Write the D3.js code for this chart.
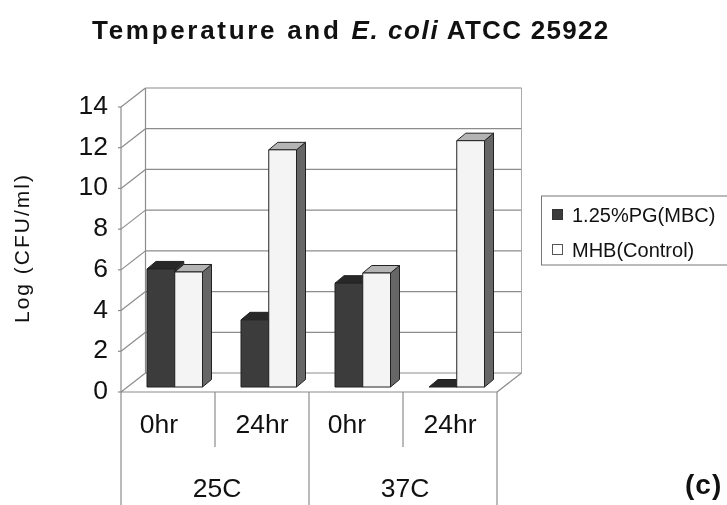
<!DOCTYPE html>
<html><head><meta charset="utf-8">
<script src="https://cdnjs.cloudflare.com/ajax/libs/d3/7.8.5/d3.min.js"></script>
<style>html,body{margin:0;padding:0;background:#fff;overflow:hidden}
svg{display:block;filter:blur(0.5px)}
text{font-family:"Liberation Sans",Arial,sans-serif;fill:#111}</style>
</head><body><svg id="c" width="727" height="505"></svg>
<script>
const groups = ["25C", "37C"];
const times = ["0hr", "24hr", "0hr", "24hr"];
const seriesNames = ["1.25%PG(MBC)", "MHB(Control)"];
const pgValues = [5.8, 3.3, 5.1, 0];
const mhbValues = [5.65, 11.65, 5.6, 12.1];
const yTicks = [0, 2, 4, 6, 8, 10, 12, 14];

const svg = d3.select("#c");
const W = {x0: 121, x1: 497, y0: 392, y1: 107, dx: 24.5, dy: -19};
const y = d3.scaleLinear().domain([0, 14]).range([W.y0, W.y1]);
const x = d3.scaleBand().domain(d3.range(times.length)).range([W.x0, W.x1]);
const gx = d3.scaleBand().domain(groups).range([W.x0, W.x1]);
const inner = d3.scaleBand().domain([0, 1]).range([26, 81.5]);
const grid = "#8c8c8c";
const line = (a, b, c, d, col = grid, w = 1.2) =>
  svg.append("line").attr("x1", a).attr("y1", b).attr("x2", c).attr("y2", d).attr("stroke", col).attr("stroke-width", w);

// Title
const title = svg.append("text").attr("x", 92).attr("y", 38.5)
  .attr("font-size", 26).attr("font-weight", "bold");
title.append("tspan").attr("letter-spacing", 2.7).text("Temperature and ");
title.append("tspan").attr("letter-spacing", 1.6).attr("font-style", "italic").text("E. coli");
title.append("tspan").attr("letter-spacing", 1.3).text(" ATCC 25922");

// Walls + gridlines
yTicks.forEach(t => {
  const py = y(t);
  line(W.x0 - 3, py, W.x0, py);
  line(W.x0, py, W.x0 + W.dx, py + W.dy);
  line(W.x0 + W.dx, py + W.dy, W.x1 + W.dx, py + W.dy);
  svg.append("text").attr("x", 108).attr("y", py + 7).attr("text-anchor", "end")
    .attr("font-size", 26.5).text(t);
});
line(W.x0, W.y0, W.x0, W.y1);
line(W.x0 + W.dx, W.y0 + W.dy, W.x0 + W.dx, W.y1 + W.dy);
line(W.x1 + W.dx, W.y0 + W.dy, W.x1 + W.dx, W.y1 + W.dy, "#aaa", 1);
line(W.x1, W.y0, W.x1 + W.dx, W.y0 + W.dy);
line(W.x0, W.y0, W.x1, W.y0);

// 3D bars
const baseY = 387, h = v => y(0) - y(v), bdx = 9, bdy = -7.5;
const styles = [
  {front: "#3c3c3c", top: "#282828", side: "#333333"},
  {front: "#f4f4f4", top: "#b4b4b4", side: "#666666"}
];
function bar(i, s, v) {
  const st = styles[s];
  const a = x(i) + inner(s), w = inner.bandwidth(), t = baseY - h(v);
  const pts = p => p.map(q => q.join(",")).join(" ");
  const g = svg.append("g").attr("stroke", "#222").attr("stroke-width", 1).attr("stroke-linejoin", "round");
  g.append("polygon").attr("fill", st.side).attr("points", pts([[a+w,baseY],[a+w+bdx,baseY+bdy],[a+w+bdx,t+bdy],[a+w,t]]));
  g.append("polygon").attr("fill", st.top).attr("points", pts([[a,t],[a+bdx,t+bdy],[a+w+bdx,t+bdy],[a+w,t]]));
  if (v > 0) g.append("rect").attr("x", a).attr("y", t).attr("width", w).attr("height", baseY - t).attr("fill", st.front);
}
times.forEach((_, i) => { bar(i, 0, pgValues[i]); bar(i, 1, mhbValues[i]); });

// Category axis
[0, 1, 2, 3, 4].forEach(i => {
  const px = i < 4 ? x(i) : W.x1;
  line(px, W.y0, px, i % 2 ? 447 : 505);
});
times.forEach((t, i) => svg.append("text").attr("x", x(i) + x.bandwidth() / 2 - (i % 2 ? 0 : 9)).attr("y", 433)
  .attr("text-anchor", "middle").attr("font-size", 26.5).text(t));
groups.forEach(g => svg.append("text").attr("x", gx(g) + gx.bandwidth() / 2 + 2).attr("y", 497)
  .attr("text-anchor", "middle").attr("font-size", 26.5).text(g));

// Y title
svg.append("text").attr("transform", "translate(29,248) rotate(-90)").attr("text-anchor", "middle")
  .attr("font-size", 21).attr("letter-spacing", 2).text("Log (CFU/ml)");

// Legend
svg.append("rect").attr("x", 541.5).attr("y", 196).attr("width", 195).attr("height", 69)
  .attr("fill", "#fff").attr("stroke", "#777").attr("stroke-width", 1);
seriesNames.forEach((n, i) => {
  const ly = 214.5 + i * 35;
  svg.append("rect").attr("x", 552.5).attr("y", ly - 5).attr("width", 10).attr("height", 10)
    .attr("fill", i ? "#fff" : "#3c3c3c").attr("stroke", i ? "#555" : "#333");
  svg.append("text").attr("x", 572).attr("y", ly + 7.5).attr("font-size", 20).text(n);
});

// Panel label
svg.append("text").attr("x", 685).attr("y", 494).attr("font-size", 28).attr("letter-spacing", 1).attr("font-weight", "bold").text("(c)");
</script></body></html>
